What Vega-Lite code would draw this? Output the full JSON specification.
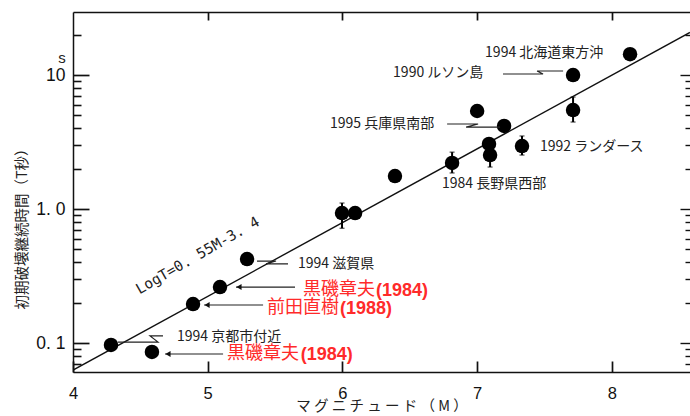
{
  "$schema": "https://vega.github.io/schema/vega-lite/v6.json",
  "width": 617,
  "height": 360,
  "autosize": {"type": "none"},
  "padding": {"left": 73, "top": 12, "right": 0, "bottom": 44},
  "background": "white",
  "config": {"view": {"stroke": null}, "axis": {"domainColor": "#111", "domainWidth": 1.5, "grid": false}},
  "datasets": {
    "fit": [{"M": 4, "T": 0.063}, {"M": 8.58, "T": 20.8}],
    "pts": [
      {"M": 4.282, "T": 0.097}, {"M": 4.586, "T": 0.086}, {"M": 4.891, "T": 0.196},
      {"M": 5.091, "T": 0.262}, {"M": 5.292, "T": 0.424}, {"M": 5.997, "T": 0.935},
      {"M": 6.094, "T": 0.935}, {"M": 6.39, "T": 1.765}, {"M": 6.814, "T": 2.21},
      {"M": 7.088, "T": 3.06}, {"M": 7.096, "T": 2.53}, {"M": 7.333, "T": 2.95},
      {"M": 7.2, "T": 4.17}, {"M": 7.0, "T": 5.39}, {"M": 7.712, "T": 5.48},
      {"M": 7.712, "T": 10.0}, {"M": 8.135, "T": 14.3}
    ],
    "err": [
      {"M": 5.997, "lo": 0.72, "hi": 1.11}, {"M": 6.814, "lo": 1.86, "hi": 2.66},
      {"M": 7.096, "lo": 2.06, "hi": 2.53}, {"M": 7.333, "lo": 2.53, "hi": 3.51},
      {"M": 7.712, "lo": 4.46, "hi": 6.85}
    ],
    "zig": [
      {"g": 1, "i": 1, "M": 7.192, "T": 10.17}, {"g": 1, "i": 2, "M": 7.489, "T": 10.17}, {"g": 1, "i": 3, "M": 7.445, "T": 10.71}, {"g": 1, "i": 4, "M": 7.638, "T": 10.71},
      {"g": 2, "i": 1, "M": 6.777, "T": 4.31}, {"g": 2, "i": 2, "M": 7.007, "T": 4.31}, {"g": 2, "i": 3, "M": 6.918, "T": 4.09}, {"g": 2, "i": 4, "M": 7.17, "T": 4.09},
      {"g": 3, "i": 1, "M": 5.366, "T": 0.41}, {"g": 3, "i": 2, "M": 5.507, "T": 0.41}, {"g": 3, "i": 3, "M": 5.433, "T": 0.39}, {"g": 3, "i": 4, "M": 5.596, "T": 0.39},
      {"g": 4, "i": 1, "M": 4.334, "T": 0.102}, {"g": 4, "i": 2, "M": 4.631, "T": 0.102}, {"g": 4, "i": 3, "M": 4.572, "T": 0.1133}, {"g": 4, "i": 4, "M": 4.668, "T": 0.1133}
    ],
    "arrows": [
      {"M": 5.21, "M2": 5.648, "T": 0.2624},
      {"M": 4.973, "M2": 5.411, "T": 0.1927},
      {"M": 4.683, "M2": 5.114, "T": 0.0831}
    ],
    "labels": [
      {"M": 7.059, "T": 14.6, "text": "1994  北海道東方沖"},
      {"M": 6.376, "T": 10.35, "text": "1990  ルソン島"},
      {"M": 5.908, "T": 4.31, "text": "1995  兵庫県南部"},
      {"M": 7.467, "T": 2.92, "text": "1992  ランダース"},
      {"M": 6.739, "T": 1.54, "text": "1984  長野県西部"},
      {"M": 5.67, "T": 0.39, "text": "1994  滋賀県"},
      {"M": 4.772, "T": 0.1115, "text": "1994  京都市付近"}
    ],
    "redName": [
      {"M": 5.707, "T": 0.2492, "text": "黒磯章夫"},
      {"M": 5.44, "T": 0.183, "text": "前田直樹"},
      {"M": 5.143, "T": 0.0831, "text": "黒磯章夫"}
    ],
    "redYear": [
      {"M": 6.249, "T": 0.2492, "text": "(1984)"},
      {"M": 5.982, "T": 0.183, "text": "(1988)"},
      {"M": 5.69, "T": 0.0831, "text": "(1984)"}
    ],
    "formula": [{"M": 4.928, "T": 0.447, "text": "LogT=0. 55M-3. 4"}],
    "unit": [{"M": 3.918, "T": 13.5, "text": "s"}]
  },
  "resolve": {"axis": {"x": "independent", "y": "independent"}},
  "layer": [
    {
      "data": {"name": "fit"},
      "mark": {"type": "line", "color": "#111", "strokeWidth": 1.4, "clip": true},
      "encoding": {
        "x": {"field": "M", "type": "quantitative", "scale": {"domain": [4, 8.58], "nice": false, "zero": false},
          "axis": {"orient": "bottom", "values": [4, 5, 6, 7, 8], "format": "d", "tickSize": -11, "tickColor": "#111", "tickWidth": 1.7, "ticks": true,
            "labelFontSize": 16.5, "labelFont": "Liberation Sans", "labelColor": "#111", "labelPadding": 24, "labelFlush": false,
            "title": "マ グ ニ チ ュ ー ド （ M ）", "titleFont": "Noto Sans CJK JP", "titleFontSize": 14.5, "titleFontWeight": "normal", "titleColor": "#222",
            "titleY": 34, "titleBaseline": "middle"}},
        "y": {"field": "T", "type": "quantitative", "scale": {"type": "log", "domain": [0.061, 29.5], "nice": false},
          "axis": {"orient": "left", "values": [0.1, 1, 10], "tickSize": -16, "tickColor": "#111", "tickWidth": 1.7, "ticks": true,
            "labelExpr": "datum.value==0.1?'0. 1':datum.value==1?'1. 0':'10'",
            "labelFontSize": 17.5, "labelFont": "Liberation Sans", "labelColor": "#111", "labelPadding": 24,
            "title": "初期破壊継続時間（T秒）", "titleFont": "Noto Sans CJK JP", "titleFontSize": 14.5, "titleFontWeight": "normal", "titleColor": "#222",
            "titleX": -51, "titleY": 213, "titleAngle": -90, "titleAlign": "center", "titleBaseline": "middle"}}
      }
    },
    {
      "data": {"name": "pts"},
      "mark": {"type": "point", "filled": true, "color": "#000", "opacity": 1, "size": 210},
      "encoding": {
        "x": {"field": "M", "type": "quantitative",
          "axis": {"orient": "top", "values": [5, 6, 7, 8], "tickSize": -8, "tickColor": "#111", "tickWidth": 1.7, "labels": false, "title": null}},
        "y": {"field": "T", "type": "quantitative",
          "axis": {"orient": "right", "values": [0.07, 0.08, 0.09, 0.1, 0.2, 0.3, 0.4, 0.5, 0.6, 0.7, 0.8, 0.9, 1, 2, 3, 4, 5, 6, 7, 8, 9, 10, 20],
            "tickSize": {"condition": {"test": "datum.value==0.1||datum.value==1||datum.value==10", "value": -10}, "value": -5},
            "tickColor": "#111", "tickWidth": 1.4, "labels": false, "domain": false, "title": null}}
      }
    },
    {
      "data": {"name": "err"},
      "mark": {"type": "rule", "color": "#000", "strokeWidth": 2},
      "encoding": {
        "x": {"field": "M", "type": "quantitative", "axis": null},
        "y": {"field": "lo", "type": "quantitative",
          "axis": {"orient": "left", "values": [0.07, 0.08, 0.09, 0.2, 0.3, 0.4, 0.5, 0.6, 0.7, 0.8, 0.9, 2, 3, 4, 5, 6, 7, 8, 9, 20],
            "tickSize": -8, "tickColor": "#111", "tickWidth": 1.6, "ticks": true, "labels": false, "domain": false, "title": null}},
        "y2": {"field": "hi"}
      }
    },
    {
      "data": {"name": "err"},
      "transform": [{"fold": ["lo", "hi"], "as": ["k", "v"]}],
      "mark": {"type": "tick", "color": "#000", "thickness": 1.2, "size": 5, "orient": "horizontal"},
      "encoding": {
        "x": {"field": "M", "type": "quantitative", "axis": null},
        "y": {"field": "v", "type": "quantitative", "axis": null}
      }
    },
    {
      "data": {"name": "zig"},
      "mark": {"type": "line", "color": "#222", "strokeWidth": 1.2},
      "encoding": {
        "x": {"field": "M", "type": "quantitative", "axis": null},
        "y": {"field": "T", "type": "quantitative", "axis": null},
        "detail": {"field": "g"},
        "order": {"field": "i", "type": "quantitative"}
      }
    },
    {
      "data": {"name": "arrows"},
      "mark": {"type": "rule", "color": "#222", "strokeWidth": 1.2},
      "encoding": {
        "x": {"field": "M", "type": "quantitative", "axis": null},
        "x2": {"field": "M2"},
        "y": {"field": "T", "type": "quantitative", "axis": null}
      }
    },
    {
      "data": {"name": "arrows"},
      "mark": {"type": "point", "shape": "triangle-left", "filled": true, "color": "#111", "opacity": 1, "size": 35, "xOffset": 3},
      "encoding": {
        "x": {"field": "M", "type": "quantitative", "axis": null},
        "y": {"field": "T", "type": "quantitative", "axis": null}
      }
    },
    {
      "data": {"name": "labels"},
      "mark": {"type": "text", "align": "left", "baseline": "middle", "font": "Noto Sans CJK JP", "fontSize": 14, "color": "#222"},
      "encoding": {
        "x": {"field": "M", "type": "quantitative", "axis": null},
        "y": {"field": "T", "type": "quantitative", "axis": null},
        "text": {"field": "text"}
      }
    },
    {
      "data": {"name": "redName"},
      "mark": {"type": "text", "align": "left", "baseline": "middle", "font": "Noto Sans CJK JP", "fontSize": 18, "color": "#ff2a2a"},
      "encoding": {
        "x": {"field": "M", "type": "quantitative", "axis": null},
        "y": {"field": "T", "type": "quantitative", "axis": null},
        "text": {"field": "text"}
      }
    },
    {
      "data": {"name": "redYear"},
      "mark": {"type": "text", "align": "left", "baseline": "middle", "font": "Liberation Sans", "fontSize": 18, "fontWeight": "bold", "color": "#ff2a2a", "dy": 1},
      "encoding": {
        "x": {"field": "M", "type": "quantitative", "axis": null},
        "y": {"field": "T", "type": "quantitative", "axis": null},
        "text": {"field": "text"}
      }
    },
    {
      "data": {"name": "formula"},
      "mark": {"type": "text", "align": "center", "baseline": "middle", "font": "DejaVu Sans Mono", "fontSize": 14.5, "angle": 330, "color": "#222"},
      "encoding": {
        "x": {"field": "M", "type": "quantitative", "axis": null},
        "y": {"field": "T", "type": "quantitative", "axis": null},
        "text": {"field": "text"}
      }
    },
    {
      "data": {"name": "unit"},
      "mark": {"type": "text", "align": "center", "baseline": "middle", "font": "Liberation Sans", "fontSize": 15, "color": "#222"},
      "encoding": {
        "x": {"field": "M", "type": "quantitative", "axis": null},
        "y": {"field": "T", "type": "quantitative", "axis": null},
        "text": {"field": "text"}
      }
    }
  ]
}
